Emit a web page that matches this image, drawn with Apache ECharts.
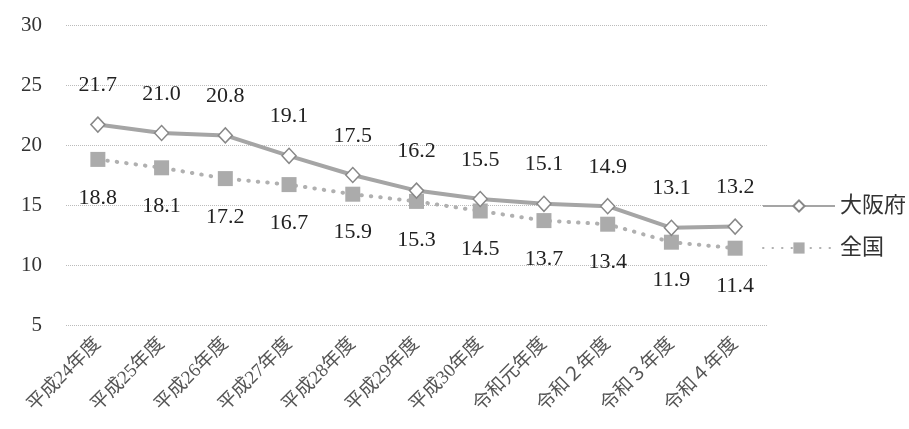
<!DOCTYPE html>
<html><head><meta charset="utf-8">
<script src="https://cdn.jsdelivr.net/npm/echarts@6/dist/echarts.min.js"></script>
<style>html,body{margin:0;padding:0;background:#fff}#c{width:909px;height:429px}</style>
</head><body><div id="c"></div>
<script>
const categories = ['平成24年度','平成25年度','平成26年度','平成27年度','平成28年度','平成29年度','平成30年度','令和元年度','令和２年度','令和３年度','令和４年度'];
const osaka = [21.7, 21.0, 20.8, 19.1, 17.5, 16.2, 15.5, 15.1, 14.9, 13.1, 13.2];
const national = [18.8, 18.1, 17.2, 16.7, 15.9, 15.3, 14.5, 13.7, 13.4, 11.9, 11.4];
const seriesNames = ['大阪府', '全国'];

const serif = '"Liberation Serif", "DejaVu Serif", "Noto Sans CJK JP", serif';
const chart = echarts.init(document.getElementById('c'));
chart.setOption({
  animation: false,
  backgroundColor: '#fff',
  grid: { left: 66, right: 142, top: 25, bottom: 104 },
  legend: {
    orient: 'vertical', left: 757, top: 190,
    itemWidth: 72, itemHeight: 14, itemGap: 20,
    textStyle: { fontSize: 22, color: '#333', fontFamily: serif },
    data: seriesNames
  },
  xAxis: {
    type: 'category', data: categories, boundaryGap: true,
    axisLine: { show: false }, axisTick: { show: false },
    axisLabel: { rotate: 45, fontSize: 19, color: '#555', margin: 16, fontFamily: serif, interval: 0 }
  },
  yAxis: {
    type: 'value', min: 5, max: 30, interval: 5,
    axisLine: { show: false }, axisTick: { show: false },
    axisLabel: { fontSize: 21, color: '#333', margin: 24, fontFamily: serif },
    splitLine: { lineStyle: { type: 'dotted', color: '#bbb', width: 1 } }
  },
  series: [
    {
      name: seriesNames[0], type: 'line', data: osaka,
      symbol: 'diamond', symbolSize: [14, 15],
      itemStyle: { color: '#fff', borderColor: '#888', borderWidth: 1.5 },
      lineStyle: { color: '#a5a5a5', width: 4 },
      label: { show: true, position: 'top', distance: 20, fontSize: 22, color: '#222', fontFamily: serif, formatter: p => p.value.toFixed(1) },
      z: 3
    },
    {
      name: seriesNames[1], type: 'line', data: national,
      symbol: 'rect', symbolSize: 15,
      itemStyle: { color: '#ababab', borderWidth: 0 },
      lineStyle: { color: '#b0b0b0', width: 4, type: [0.5, 9], cap: 'round' },
      label: { show: true, position: 'bottom', distance: 20, fontSize: 22, color: '#222', fontFamily: serif, formatter: p => p.value.toFixed(1) },
      z: 2
    }
  ]
});
</script></body></html>
